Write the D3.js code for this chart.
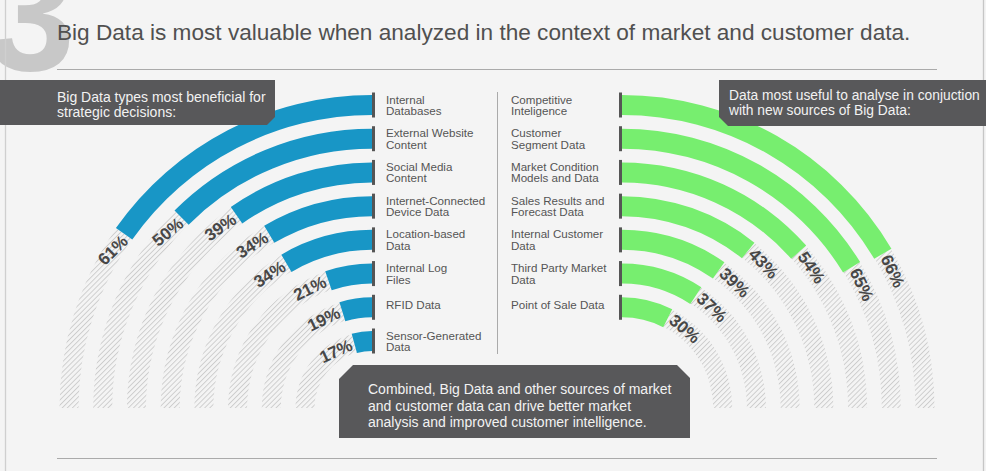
<!DOCTYPE html>
<html><head><meta charset="utf-8">
<script src="https://cdn.jsdelivr.net/npm/d3@7"></script>
<style>
html,body{margin:0;padding:0;background:#f4f4f4;}
svg{display:block;font-family:"Liberation Sans",Arial,Helvetica,sans-serif;}
</style></head><body>
<svg id="chart" width="986" height="471"></svg>
<script>
const sectionNumber = "3";
const titleText = "Big Data is most valuable when analyzed in the context of market and customer data.";
const leftHeading = ["Big Data types most beneficial for", "strategic decisions:"];
const rightHeading = ["Data most useful to analyse in conjuction", "with new sources of Big Data:"];
const footerText = ["Combined, Big Data and other sources of market",
                    "and customer data can drive better market",
                    "analysis and improved customer intelligence."];

const leftCategories = ["Internal\nDatabases", "External Website\nContent", "Social Media\nContent",
  "Internet-Connected\nDevice Data", "Location-based\nData", "Internal Log\nFiles",
  "RFID Data", "Sensor-Generated\nData"];
const leftValues = [61, 50, 39, 34, 34, 21, 19, 17];

const rightCategories = ["Competitive\nInteligence", "Customer\nSegment Data", "Market Condition\nModels and Data",
  "Sales Results and\nForecast Data", "Internal Customer\nData", "Third Party Market\nData",
  "Point of Sale Data"];
const rightValues = [66, 65, 54, 43, 39, 37, 30];

const W = 986, H = 471;
const BLUE = "#1896c6", GREEN = "#77ee6f", DARK = "#58585a", BG = "#f4f4f4";
const svg = d3.select("#chart");
svg.append("rect").attr("width", W).attr("height", H).attr("fill", BG);

const defs = svg.append("defs");
const pat = defs.append("pattern").attr("id", "hatch").attr("patternUnits", "userSpaceOnUse")
  .attr("width", 3.6).attr("height", 3.6).attr("patternTransform", "rotate(45)");
pat.append("line").attr("x1", 0.5).attr("y1", 0).attr("x2", 0.5).attr("y2", 3.6)
  .attr("stroke", "#cbcbcb").attr("stroke-width", 0.9);

// big section number
svg.append("text").attr("x", -14).attr("y", 70).text(sectionNumber)
  .attr("font-size", 160).attr("font-weight", "bold").attr("fill", "#c8c8c8");

// panel borders
svg.append("line").attr("x1", 5.5).attr("x2", 5.5).attr("y1", 0).attr("y2", H).attr("stroke", "#cfcfcf").attr("stroke-width", 1.3);
svg.append("line").attr("x1", 983.5).attr("x2", 983.5).attr("y1", 0).attr("y2", H).attr("stroke", "#c6c6c6").attr("stroke-width", 1.3);

// title
const title = svg.append("text").attr("x", 57).attr("y", 39.5).text(titleText)
  .attr("font-size", 20).attr("fill", "#505050");
{
  const len = title.node().getComputedTextLength();
  title.attr("font-size", 20 * 854 / len);
}
svg.append("line").attr("x1", 57).attr("x2", 937).attr("y1", 69.5).attr("y2", 69.5).attr("stroke", "#aaaaaa");
svg.append("line").attr("x1", 57).attr("x2", 937).attr("y1", 458.5).attr("y2", 458.5).attr("stroke", "#aaaaaa");

// geometry
const cy = 408, cxL = 372, cxR = 622;
const angle = d3.scaleLinear().domain([0, 100]).range([0, Math.PI / 2]);
const step = (303 - 67) / (leftCategories.length - 1);
const radiusL = d3.scalePoint().domain(leftCategories).range([303, 67]);
const radiusR = d3.scalePoint().domain(rightCategories).range([303, 303 - step * (rightCategories.length - 1)]);
const BAR = 20, HATCH = 19;

function side(cats, vals, cx, rScale, dir, color) {
  const g = svg.append("g").attr("transform", `translate(${cx},${cy})`);
  const data = cats.map((c, i) => ({ c, v: vals[i], r: rScale(c) }));
  g.selectAll("path.h").data(data).join("path").attr("class", "h")
    .attr("d", d => d3.arc().innerRadius(d.r - HATCH / 2).outerRadius(d.r + HATCH / 2)
      .startAngle(dir * angle(d.v)).endAngle(dir * angle(100))())
    .attr("fill", "url(#hatch)");
  g.selectAll("path.b").data(data).join("path").attr("class", "b")
    .attr("d", d => d3.arc().innerRadius(d.r - BAR / 2).outerRadius(d.r + BAR / 2)
      .startAngle(0).endAngle(dir * angle(d.v))())
    .attr("fill", color);
  g.selectAll("rect.t").data(data).join("rect").attr("class", "t")
    .attr("x", dir < 0 ? 0 : -3).attr("width", 3)
    .attr("y", d => -d.r - 12.5).attr("height", 25).attr("fill", "#555555");
  g.selectAll("text.p").data(data).join("text").attr("class", "p")
    .text(d => d.v + "%")
    .attr("font-size", 17).attr("font-weight", "bold").attr("fill", "#474747")
    .attr("text-anchor", "middle").attr("dominant-baseline", "central")
    .each(function (d) {
      const len = this.getComputedTextLength();
      const a = angle(d.v) + (3 + len / 2) / d.r;
      const x = dir * d.r * Math.sin(a), y = -d.r * Math.cos(a);
      const endDeg = angle(d.v) * 180 / Math.PI;
      const rot = dir < 0 ? -(17 + 0.5 * endDeg) : (a * 180 / Math.PI + 2);
      d3.select(this).attr("transform", `translate(${x},${y}) rotate(${rot})`);
    });
  return data;
}

const dl = side(leftCategories, leftValues, cxL, radiusL, -1, BLUE);
const dr = side(rightCategories, rightValues, cxR, radiusR, 1, GREEN);

function catLabels(data, x) {
  data.forEach(d => {
    const lines = d.c.split("\n");
    const yc = cy - d.r;
    lines.forEach((ln, i) => {
      svg.append("text").attr("x", x)
        .attr("y", lines.length === 1 ? yc + 2 : yc - 1.5 + i * 11.5)
        .attr("font-size", 11.6).attr("fill", "#555555")
        .text(ln);
    });
  });
}
catLabels(dl, 386);
catLabels(dr, 511);

svg.append("line").attr("x1", 497.5).attr("x2", 497.5).attr("y1", 92).attr("y2", 354).attr("stroke", "#aaaaaa");

function box(points, lines, x, y0, lh, size) {
  svg.append("polygon").attr("points", points.map(p => p.join(",")).join(" ")).attr("fill", DARK);
  lines.forEach((ln, i) => svg.append("text").attr("x", x).attr("y", y0 + i * lh)
    .attr("font-size", size).attr("fill", "#f2f2f2").text(ln));
}
box([[0, 80], [275, 80], [275, 117], [267, 125], [0, 125]], leftHeading, 57, 101.5, 15, 14);
box([[719, 80], [986, 80], [986, 126], [728, 126], [719, 117]], rightHeading, 729, 100, 15, 13.8);
box([[353, 365], [677, 365], [690, 378], [690, 438], [339, 438], [339, 379]], footerText, 368, 394, 16.6, 14);
</script>
</body></html>
